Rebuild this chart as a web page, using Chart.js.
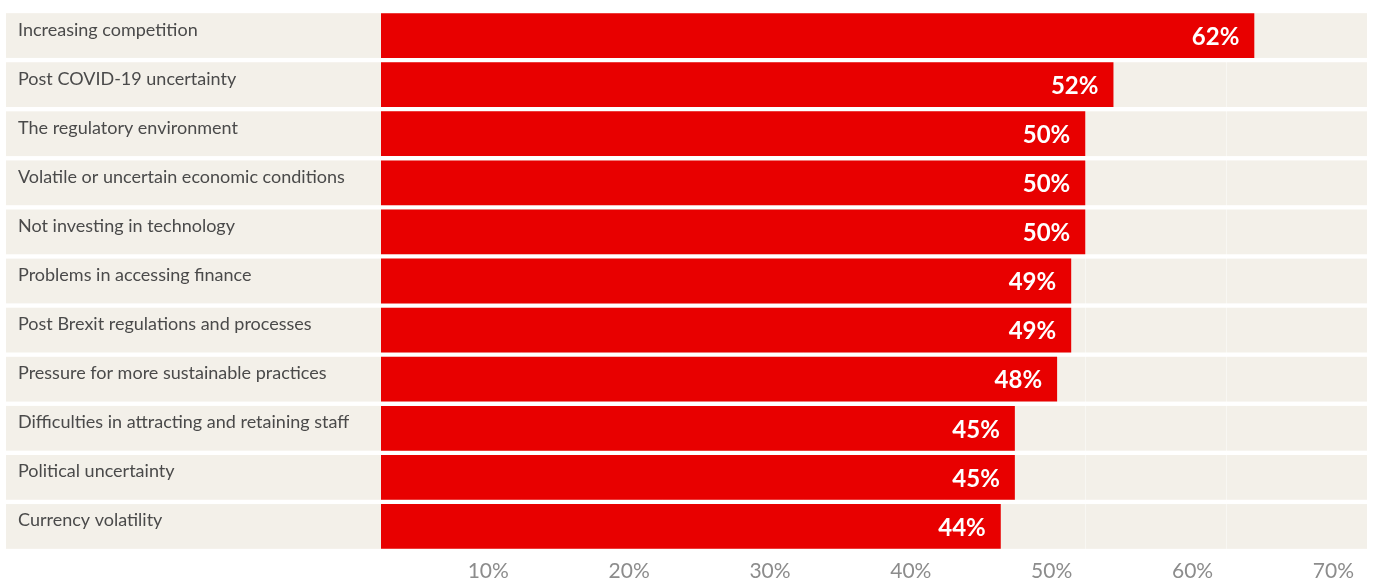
<!DOCTYPE html>
<html>
<head>
<meta charset="utf-8">
<script src="https://cdn.jsdelivr.net/npm/chart.js@4/dist/chart.umd.min.js"></script>
<style>
  html, body { margin: 0; padding: 0; background: #fff; }
  #wrap { width: 1375px; height: 581px; }
</style>
</head>
<body>
<div id="wrap"><canvas id="myChart"></canvas></div>
<script>
// 类目
var categories = [
    'Increasing competition',
    'Post COVID-19 uncertainty',
    'The regulatory environment',
    'Volatile or uncertain economic conditions',
    'Not investing in technology',
    'Problems in accessing finance',
    'Post Brexit regulations and processes',
    'Pressure for more sustainable practices',
    'Difficulties in attracting and retaining staff',
    'Political uncertainty',
    'Currency volatility'
];
// 百分比
var shares = [62, 52, 50, 50, 50, 49, 49, 48, 45, 45, 44];
// x轴刻度
var tickValues = [10, 20, 30, 40, 50, 60, 70];

var RED = '#e80000';
var ROW_BG = '#f3f0e9';

// 行背景 + 类目文字
var rowPlugin = {
    id: 'rows',
    beforeDraw: function (chart) {
        var ctx = chart.ctx;
        var meta = chart.getDatasetMeta(0);
        var area = chart.chartArea;
        ctx.save();
        for (var i = 0; i < meta.data.length; i++) {
            var bar = meta.data[i];
            var h = bar.height;
            ctx.fillStyle = ROW_BG;
            ctx.fillRect(6, bar.y - h / 2, area.right - 6, h);
        }
        ctx.restore();
    },
    afterDatasetsDraw: function (chart) {
        var ctx = chart.ctx;
        var meta = chart.getDatasetMeta(0);
        ctx.save();
        for (var i = 0; i < meta.data.length; i++) {
            var bar = meta.data[i];
            // 左侧类目
            ctx.fillStyle = '#4a4a4a';
            ctx.font = '18px Lato';
            ctx.textAlign = 'left';
            ctx.textBaseline = 'alphabetic';
            ctx.fillText(categories[i], 18, bar.y);
            // 条内数值
            ctx.fillStyle = '#ffffff';
            ctx.font = 'bold 24px Lato';
            ctx.textAlign = 'right';
            ctx.textBaseline = 'middle';
            ctx.fillText(shares[i] + '%', bar.x - 15, bar.y + 1.5);
        }
        ctx.restore();
    }
};

var ctx = document.getElementById('myChart');
var myChart = new Chart(ctx, {
    type: 'bar',
    data: {
        labels: categories,
        datasets: [{
            data: shares,
            backgroundColor: RED,
            borderWidth: 0,
            categoryPercentage: 1,
            barPercentage: 0.912
        }]
    },
    plugins: [rowPlugin],
    options: {
        indexAxis: 'y',
        responsive: true,
        maintainAspectRatio: false,
        animation: false,
        layout: {
            padding: { left: 381, right: 7.5, top: 11, bottom: 0 }
        },
        plugins: {
            legend: { display: false },
            tooltip: { enabled: false }
        },
        scales: {
            y: { display: false },
            x: {
                min: 0,
                max: 70,
                afterBuildTicks: function (scale) {
                    scale.ticks = tickValues.map(function (v) { return { value: v }; });
                },
                afterFit: function (scale) {
                    scale.height = 30;
                },
                grid: {
                    color: 'rgba(255,255,255,0.45)',
                    lineWidth: 1,
                    drawTicks: false
                },
                border: { display: false },
                ticks: {
                    color: '#8c8c8c',
                    font: { family: 'Lato', size: 21 },
                    align: 'end',
                    labelOffset: -13,
                    padding: 8,
                    maxRotation: 0,
                    autoSkip: false,
                    callback: function (v) { return v + '%'; }
                }
            }
        }
    }
});
</script>
</body>
</html>
